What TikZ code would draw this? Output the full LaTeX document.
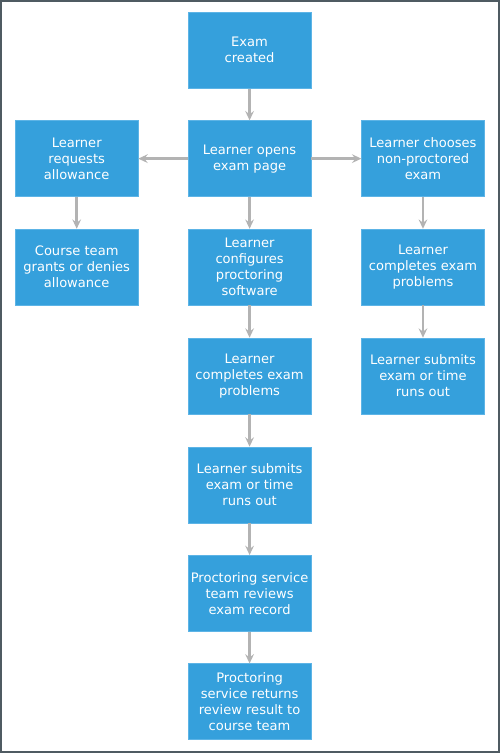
\documentclass[tikz,border=0pt]{standalone}
\usepackage{fontspec}
\setmainfont{DejaVu Sans}
\definecolor{exblue}{HTML}{35A0DC}
\definecolor{exedge}{HTML}{5DB4E6}
\definecolor{exarrow}{HTML}{B3B3B3}
\definecolor{exframe}{HTML}{4F5B62}
\usetikzlibrary{arrows.meta, positioning}

\begin{document}
\begin{tikzpicture}[x=0.75pt, y=-0.75pt,
  stepbox/.style={rectangle, fill=exblue, draw=exedge, line width=0.5pt,
                  minimum width=92pt, minimum height=57pt, inner sep=2pt,
                  align=center, text=white, font=\fontsize{9.8}{12}\selectfont},
  flow/.style={draw=exarrow, line width=2.2pt,
               -{Stealth[length=7pt, width=6.5pt, inset=2.5pt]}},
]
  \draw[exframe, line width=1.5pt, fill=white] (0.75,0.75) rectangle (499.25,752.25);

  % centre column
  \node[stepbox] (created) at (249.5,50) {Exam\\created};
  \node[stepbox] (opens) at (249.5,158.5) {Learner opens\\exam page};
  \node[stepbox] (config) at (249.5,267) {Learner\\configures\\proctoring\\software};
  \node[stepbox] (complete) at (249.5,376) {Learner\\completes exam\\problems};
  \node[stepbox] (submit) at (249.5,485) {Learner submits\\exam or time\\runs out};
  \node[stepbox] (review) at (249.5,593.5) {Proctoring service\\team reviews\\exam record};
  \node[stepbox] (result) at (249.5,702) {Proctoring\\service returns\\review result to\\course team};

  % left column
  \node[stepbox] (request) at (76.5,158.5) {Learner\\requests\\allowance};
  \node[stepbox] (grant) at (76.5,267) {Course team\\grants or denies\\allowance};

  % right column
  \node[stepbox] (nonproc) at (423,158.5) {Learner chooses\\non-proctored\\exam};
  \node[stepbox] (rcomplete) at (423,267) {Learner\\completes exam\\problems};
  \node[stepbox] (rsubmit) at (423,376) {Learner submits\\exam or time\\runs out};

  \draw[flow] (created) -- (opens);
  \draw[flow] (opens) -- (config);
  \draw[flow] (config) -- (complete);
  \draw[flow] (complete) -- (submit);
  \draw[flow] (submit) -- (review);
  \draw[flow] (review) -- (result);
  \draw[flow] (opens) -- (request);
  \draw[flow] (opens) -- (nonproc);
  \draw[flow] (request) -- (grant);
  \draw[flow] (nonproc) -- (rcomplete);
  \draw[flow] (rcomplete) -- (rsubmit);
\end{tikzpicture}
\end{document}
